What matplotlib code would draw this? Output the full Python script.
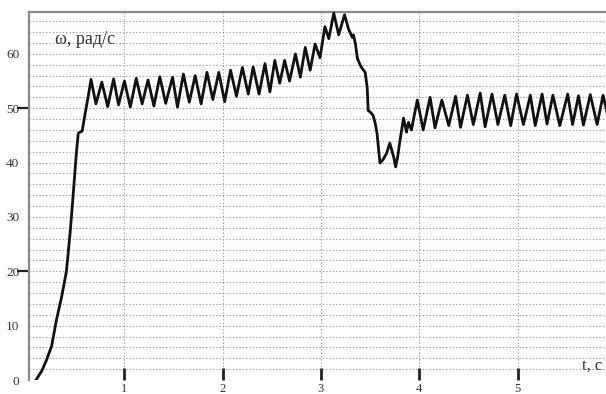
import matplotlib
matplotlib.use("Agg")
import matplotlib.pyplot as plt

# time, s
t_s = [0.10, 0.16, 0.21, 0.26, 0.31, 0.36, 0.41, 0.45, 0.48, 0.51, 0.53, 0.57, 0.60, 0.63,
       0.66, 0.71, 0.77, 0.83, 0.89, 0.94, 1.00, 1.06, 1.12, 1.18, 1.24, 1.30, 1.36, 1.42,
       1.49, 1.54, 1.60, 1.66, 1.72, 1.78, 1.84, 1.90, 1.96, 2.02, 2.08, 2.14, 2.20, 2.26,
       2.31, 2.37, 2.43, 2.48, 2.53, 2.58, 2.63, 2.68, 2.74, 2.79, 2.84, 2.89, 2.94, 2.99,
       3.04, 3.08, 3.13, 3.18, 3.24,
       3.28, 3.32, 3.33, 3.35, 3.37, 3.40, 3.42, 3.45, 3.47, 3.48, 3.50, 3.53, 3.55, 3.57,
       3.60, 3.63, 3.67, 3.70, 3.74, 3.76, 3.78, 3.80, 3.84, 3.87, 3.89, 3.92,
       3.98, 4.04, 4.11, 4.16, 4.23, 4.30, 4.37, 4.42, 4.49, 4.55, 4.62, 4.67, 4.74, 4.80,
       4.87, 4.93, 4.99, 5.06, 5.13, 5.18, 5.25, 5.30, 5.36, 5.43, 5.51, 5.56, 5.62, 5.67,
       5.74, 5.81, 5.87, 5.92]

# angular speed, rad/s
omega = [0.0, 1.7, 3.8, 6.3, 11.2, 15.2, 20.0, 27.6, 34.4, 41.5, 45.4, 45.8, 49.0, 52.0,
         55.3, 50.8, 54.8, 50.3, 55.4, 50.6, 55.0, 50.2, 55.5, 50.8, 55.2, 50.4, 55.8, 50.9,
         55.7, 50.2, 56.3, 51.1, 56.0, 50.8, 56.6, 51.6, 56.6, 51.2, 57.0, 52.2, 57.5, 52.6,
         57.6, 52.6, 58.2, 53.0, 58.8, 54.6, 58.8, 55.0, 60.0, 55.7, 61.2, 57.0, 61.8, 59.3,
         65.0, 62.8, 67.5, 63.5, 67.2,
         64.6, 63.0, 63.5, 61.9, 59.2, 57.9, 57.3, 56.6, 53.8, 49.6, 49.3, 48.7, 47.4, 45.4,
         39.9, 40.5, 41.8, 43.6, 41.0, 39.2, 41.0, 43.6, 48.2, 45.6, 47.4, 46.0,
         51.5, 46.0, 52.0, 46.4, 51.5, 46.8, 52.2, 46.5, 52.4, 47.0, 52.8, 46.6, 52.6, 47.0,
         52.4, 46.8, 52.6, 47.0, 52.4, 46.8, 52.6, 47.1, 52.4, 46.8, 52.6, 47.0, 52.3, 46.9,
         52.5, 47.0, 52.4, 48.5]

x_ticks = [1, 2, 3, 4, 5]
y_ticks = [0, 10, 20, 30, 40, 50, 60]
y_marked = [20, 50]
y_grid = list(range(2, 68, 2))
x_grid = [1, 2, 3, 4, 5]

serif = ["Liberation Serif", "DejaVu Serif"]

fig = plt.figure(figsize=(6.06, 3.94), dpi=100)
ax = fig.add_axes([0.048, 0.0355, 0.952, 0.934])

for g in y_grid:
    ax.axhline(g, color="#a0a0a0", linestyle=(0, (1.2, 1.8)), linewidth=0.8, zorder=1)
for g in x_grid:
    ax.axvline(g, color="#a0a0a0", linestyle=(0, (1.2, 1.8)), linewidth=0.8, zorder=1)

ax.plot(t_s, omega, color="#111111", linewidth=2.0, zorder=3)

ax.set_xlim(0.03, 5.90)
ax.set_ylim(0, 67.7)

ax.set_xticks(x_ticks)
ax.set_xticklabels([str(v) for v in x_ticks], family=serif, fontsize=9, color="#333333")
ax.tick_params(axis="x", direction="in", length=9, width=2, color="#222222", pad=2)

ax.yaxis.remove_overlapping_locs = False
ax.set_yticks(y_ticks)
ax.set_yticklabels([str(v) for v in y_ticks], family=serif, fontsize=9.5, color="#333333")
ax.tick_params(axis="y", which="major", length=0, pad=7)
ax.set_yticks(y_marked, minor=True)
ax.tick_params(axis="y", which="minor", direction="out", length=9, width=1.6,
               color="#222222", labelleft=False)

for s in ["right", "bottom"]:
    ax.spines[s].set_visible(False)
for s in ["left", "top"]:
    ax.spines[s].set_color("#8a8a8a")
    ax.spines[s].set_linewidth(1.6)

ax.text(0.045, 0.924, "ω, рад/с", transform=ax.transAxes, family=serif, fontsize=13,
        color="#333333", ha="left", va="center")
ax.text(0.958, 0.04, "t, c", transform=ax.transAxes, family=serif, fontsize=12,
        color="#333333", ha="left", va="center")

fig.savefig("out.png", dpi=100)
